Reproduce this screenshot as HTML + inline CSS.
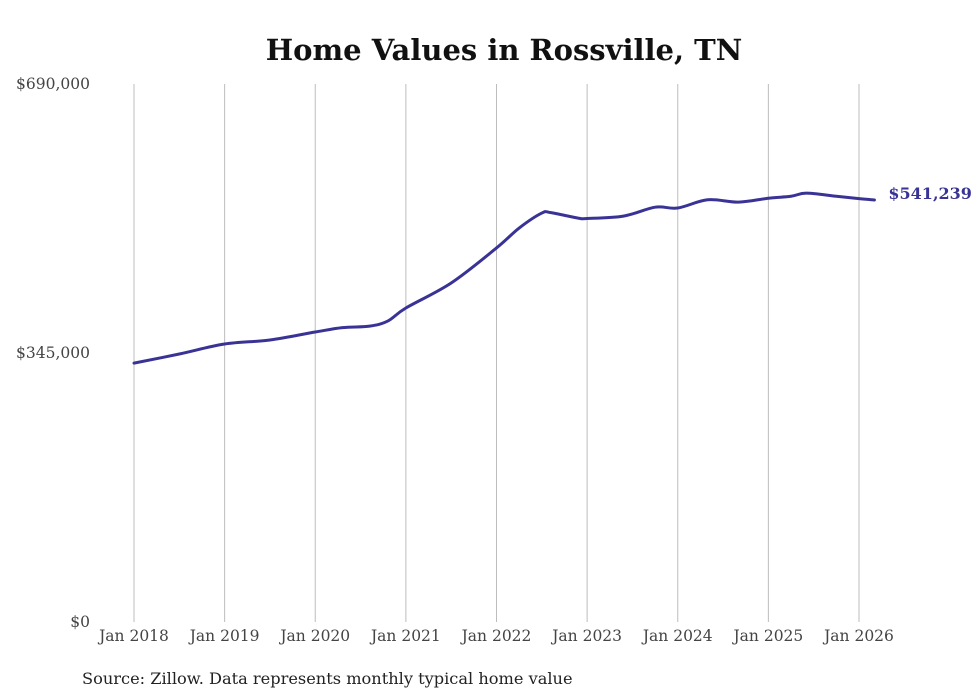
<!DOCTYPE html>
<html><head><meta charset="utf-8"><style>
body{margin:0;background:#fff;}
svg{display:block;}
</style></head><body>
<svg id="chart" width="980" height="699" xmlns="http://www.w3.org/2000/svg">
<text x="504" y="60" text-anchor="middle" font-family="'DejaVu Serif','Liberation Serif',serif" font-weight="bold" font-size="29" fill="#111">Home Values in Rossville, TN</text>
<g id="grid"></g><g id="yaxis"></g><g id="xaxis"></g><g id="series"></g>
<text x="82" y="684" font-family="'DejaVu Serif','Liberation Serif',serif" font-size="16.2" fill="#222">Source: Zillow. Data represents monthly typical home value</text>
</svg>
<script>
const dates=[2018.0,2018.5,2019.0,2019.5,2020.0,2020.3,2020.6,2020.8,2021.0,2021.5,2022.0,2022.25,2022.5,2022.6,2022.9,2023.0,2023.4,2023.75,2024.0,2024.33,2024.67,2025.0,2025.25,2025.42,2025.75,2026.0,2026.17];
const values=[332000,343700,356500,361700,371900,377500,379500,386000,402700,434800,479700,505300,524500,525000,518000,517500,520500,532000,531000,541500,538500,543500,546000,550000,546000,543000,541239];
const yTicks=[0,345000,690000];
const yTickLabels=["$0","$345,000","$690,000"];
const xTicks=[2018,2019,2020,2021,2022,2023,2024,2025,2026];
const xTickLabels=["Jan 2018","Jan 2019","Jan 2020","Jan 2021","Jan 2022","Jan 2023","Jan 2024","Jan 2025","Jan 2026"];
const lastLabel="$541,239";
const NS="http://www.w3.org/2000/svg";
const x=d=>134+(d-2018)*(859-134)/8;
const y=v=>622-v*(622-84)/690000;
function mk(t,a,p){const e=document.createElementNS(NS,t);for(const k in a)e.setAttribute(k,a[k]);p.appendChild(e);return e;}
const grid=document.getElementById('grid'),ya=document.getElementById('yaxis'),xa=document.getElementById('xaxis'),se=document.getElementById('series');
xTicks.forEach((t,i)=>{
 const l=mk('line',{x1:x(t),x2:x(t),y1:84,y2:622,stroke:'#bdbdbd','stroke-width':1},grid);
 
 
 const tx=mk('text',{x:x(t),y:641,'text-anchor':'middle','font-family':"'DejaVu Serif','Liberation Serif',serif",'font-size':15.5,fill:'#444'},xa);
 tx.textContent=xTickLabels[i];
 
 
});
yTicks.forEach((t,i)=>{
 const tx=mk('text',{x:90,y:y(t)+5,'text-anchor':'end','font-family':"'DejaVu Serif','Liberation Serif',serif",'font-size':15.5,fill:'#444'},ya);
 tx.textContent=yTickLabels[i];
 
 
});
const pts=dates.map((d,i)=>[x(d),y(values[i])]);
let dpath='M'+pts[0][0]+','+pts[0][1];
for(let i=0;i<pts.length-1;i++){
 const p0=pts[i-1]||pts[i],p1=pts[i],p2=pts[i+1],p3=pts[i+2]||p2;
 const c1=[p1[0]+(p2[0]-p0[0])/6,p1[1]+(p2[1]-p0[1])/6],c2=[p2[0]-(p3[0]-p1[0])/6,p2[1]-(p3[1]-p1[1])/6];
 dpath+=` C${c1[0]},${c1[1]} ${c2[0]},${c2[1]} ${p2[0]},${p2[1]}`;
}
const path=mk('path',{d:dpath,fill:'none',stroke:'#3a3396','stroke-width':3,'stroke-linejoin':'round','stroke-linecap':'round'},se);


const lp=pts[pts.length-1];
const lt=mk('text',{x:lp[0]+14,y:lp[1]-1,'font-family':"'DejaVu Serif','Liberation Serif',serif",'font-weight':'bold','font-size':16,fill:'#3a3396'},se);
lt.textContent=lastLabel;


</script>
</body></html>
